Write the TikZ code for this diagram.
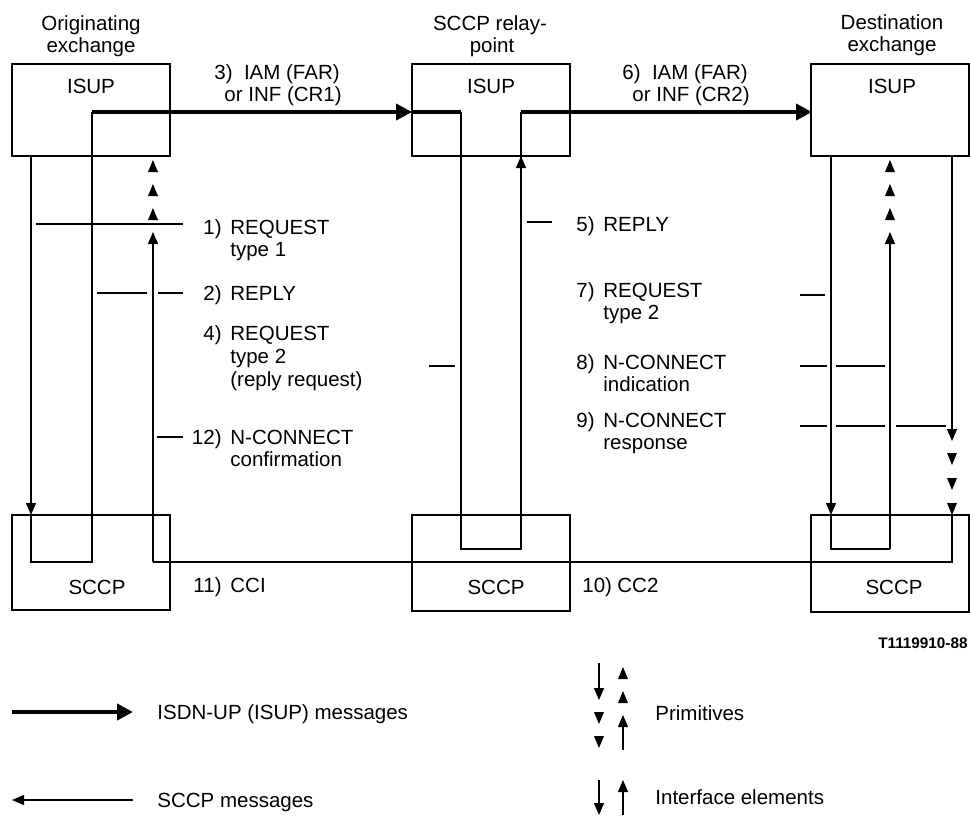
\documentclass[tikz,border=0pt]{standalone}
\usepackage{fontspec}
\setmainfont{Liberation Sans}
\usetikzlibrary{arrows.meta}
\newcommand\uptri[2]{\fill (#1,#2) -- ++(-5,12) -- ++(10,0) -- cycle;}
\newcommand\dntri[2]{\fill (#1,#2) -- ++(-5,-12) -- ++(10,0) -- cycle;}
\begin{document}
\begin{tikzpicture}[x=0.5pt,y=-0.5pt,
  box/.style={draw,line width=1pt,inner sep=0pt,minimum width=79pt},
  wire/.style={line width=0.65pt},
  msg/.style={line width=2pt},
  tip/.style={-{Triangle[width=5pt,length=6pt]}},
  bigtip/.style={-{Triangle[width=8pt,length=8pt]}},
  txt/.style={inner sep=0pt,font=\fontsize{10.25}{12}\selectfont},
  lbl/.style={txt,anchor=base west},
  num/.style={txt,anchor=base east},
  hdr/.style={txt,anchor=base},
]
\useasboundingbox (0,0) rectangle (970,816);

% boxes
\node[box,minimum height=46pt] (oisup) at (91,110) {};
\node[box,minimum height=47.5pt] (osccp) at (91,562.5) {};
\node[box,minimum height=46pt] (misup) at (491,110) {};
\node[box,minimum height=48pt] (msccp) at (491,563) {};
\node[box,minimum height=46pt] (disup) at (890,110) {};
\node[box,minimum height=48.5pt] (dsccp) at (890,563.5) {};

\node[hdr] (t-oisup) at (91,93) {ISUP};
\node[hdr] (t-misup) at (491,93) {ISUP};
\node[hdr] (t-disup) at (892,93) {ISUP};
\node[hdr] (t-osccp) at (97,594) {SCCP};
\node[hdr] (t-msccp) at (496,594) {SCCP};
\node[hdr] (t-dsccp) at (894,594) {SCCP};

% headers
\node[hdr] (h1a) at (91,30) {Originating};
\node[hdr] (h1b) at (91,52) {exchange};
\node[hdr] (h2a) at (490,30) {SCCP relay-};
\node[hdr] (h2b) at (492,52) {point};
\node[hdr] (h3a) at (892,29) {Destination};
\node[hdr] (h3b) at (892,51) {exchange};

% coordinates
\coordinate (a0) at (31,156);
\coordinate (a1) at (31,515);
\coordinate (a2) at (31,562);
\coordinate (a3) at (92,562);
\coordinate (a4) at (92,112);
\coordinate (m0) at (412,112);
\coordinate (m1) at (461,112);
\coordinate (m2) at (461,549);
\coordinate (m3) at (521,549);
\coordinate (m4) at (521,156);
\coordinate (m5) at (521,112);
\coordinate (d0) at (812,112);
\coordinate (b0) at (831,156);
\coordinate (b1) at (831,515);
\coordinate (b2) at (831,549);
\coordinate (b3) at (890,549);
\coordinate (b4) at (890,232);
\coordinate (c0) at (952,156);
\coordinate (c1) at (952,441);
\coordinate (c2) at (952,515);
\coordinate (c3) at (952,562);
\coordinate (c4) at (153,562);
\coordinate (c5) at (153,232);

% originating exchange path
\draw[wire,tip] (a0) -- (a1);
\draw[wire] (a1) -- (a2) -- (a3) -- (a4);
\draw[msg,bigtip] (a4) -- (m0);
% relay point
\draw[msg] (m0) -- (m1);
\draw[wire] (m1) -- (m2) -- (m3) -- (m5);
\draw[wire,tip] (m3) -- (m4);
\draw[msg,bigtip] (m5) -- (d0);
% destination
\draw[wire,tip] (b0) -- (b1);
\draw[wire] (b1) -- (b2) -- (b3);
\draw[wire,tip] (b3) -- (b4);
\draw[wire,tip] (c0) -- (c1);
\draw[wire] (c2) -- (c3) -- (c4);
\draw[wire,tip] (c4) -- (c5);

% primitives
\uptri{153}{160}\uptri{153}{184}\uptri{153}{208}
\uptri{890}{160}\uptri{890}{184}\uptri{890}{208}
\dntri{952}{465}\dntri{952}{490}\dntri{952}{515}

% label ticks
\draw[wire] (36,224) -- (183,224);
\draw[wire] (97,293) -- (147,293) (158,293) -- (183,293);
\draw[wire] (429,366) -- (455,366);
\draw[wire] (157,437) -- (183,437);
\draw[wire] (527,222) -- (552,222);
\draw[wire] (800,295) -- (825,295);
\draw[wire] (800,366) -- (827,366) (836,366) -- (885,366);
\draw[wire] (800,426) -- (827,426) (836,426) -- (885,426) (896,426) -- (946,426);

% labels
\node[lbl] (l3a) at (214,79) {3)\ \ IAM (FAR)};
\node[lbl] (l3b) at (224,101) {or INF (CR1)};
\node[lbl] (l6a) at (622,79) {6)\ \ IAM (FAR)};
\node[lbl] (l6b) at (632,101) {or INF (CR2)};

\node[num] (n1) at (222,234) {1)};
\node[lbl] (l1a) at (230,234) {REQUEST};
\node[lbl] (l1b) at (230,256) {type 1};
\node[num] (n2) at (222,300) {2)};
\node[lbl] (l2) at (230,300) {REPLY};
\node[num] (n4) at (222,340) {4)};
\node[lbl] (l4a) at (230,340) {REQUEST};
\node[lbl] (l4b) at (230,363) {type 2};
\node[lbl] (l4c) at (230,386) {(reply request)};
\node[num] (n12) at (222,444) {12)};
\node[lbl] (l12a) at (230,444) {N-CONNECT};
\node[lbl] (l12b) at (230,466) {confirmation};
\node[num] (n11) at (222,592) {11)};
\node[lbl] (l11) at (230,592) {CCI};

\node[num] (n5) at (595,231) {5)};
\node[lbl] (l5) at (603,231) {REPLY};
\node[num] (n7) at (595,297) {7)};
\node[lbl] (l7a) at (603,297) {REQUEST};
\node[lbl] (l7b) at (603,319) {type 2};
\node[num] (n8) at (595,369) {8)};
\node[lbl] (l8a) at (603,369) {N-CONNECT};
\node[lbl] (l8b) at (603,391) {indication};
\node[num] (n9) at (595,427) {9)};
\node[lbl] (l9a) at (603,427) {N-CONNECT};
\node[lbl] (l9b) at (603,449) {response};
\node[lbl] (n10) at (582,592) {10)};
\node[lbl] (l10) at (617,592) {CC2};

\node[txt,anchor=base east,font=\fontsize{7.65}{9}\selectfont\bfseries] (ref) at (968,648) {T1119910-88};

% legend
\coordinate (g1a) at (12,712);
\coordinate (g1b) at (133,712);
\draw[msg,bigtip] (g1a) -- (g1b);
\node[lbl] (g1t) at (157,719) {ISDN-UP (ISUP) messages};
\coordinate (g2a) at (133,800);
\coordinate (g2b) at (12,800);
\draw[wire,tip] (g2a) -- (g2b);
\node[lbl] (g2t) at (157,807) {SCCP messages};

\coordinate (p1a) at (599,663);
\coordinate (p1b) at (599,700);
\draw[wire,tip] (p1a) -- (p1b);
\dntri{599}{724}\dntri{599}{748}
\uptri{623}{667}\uptri{623}{691}
\coordinate (p2a) at (623,750);
\coordinate (p2b) at (623,715);
\draw[wire,tip] (p2a) -- (p2b);
\node[lbl] (pt) at (655,720) {Primitives};

\coordinate (i1a) at (599,780);
\coordinate (i1b) at (599,815);
\draw[wire,tip] (i1a) -- (i1b);
\coordinate (i2a) at (623,815);
\coordinate (i2b) at (623,780);
\draw[wire,tip] (i2a) -- (i2b);
\node[lbl] (it) at (655,804) {Interface elements};
\end{tikzpicture}
\end{document}
